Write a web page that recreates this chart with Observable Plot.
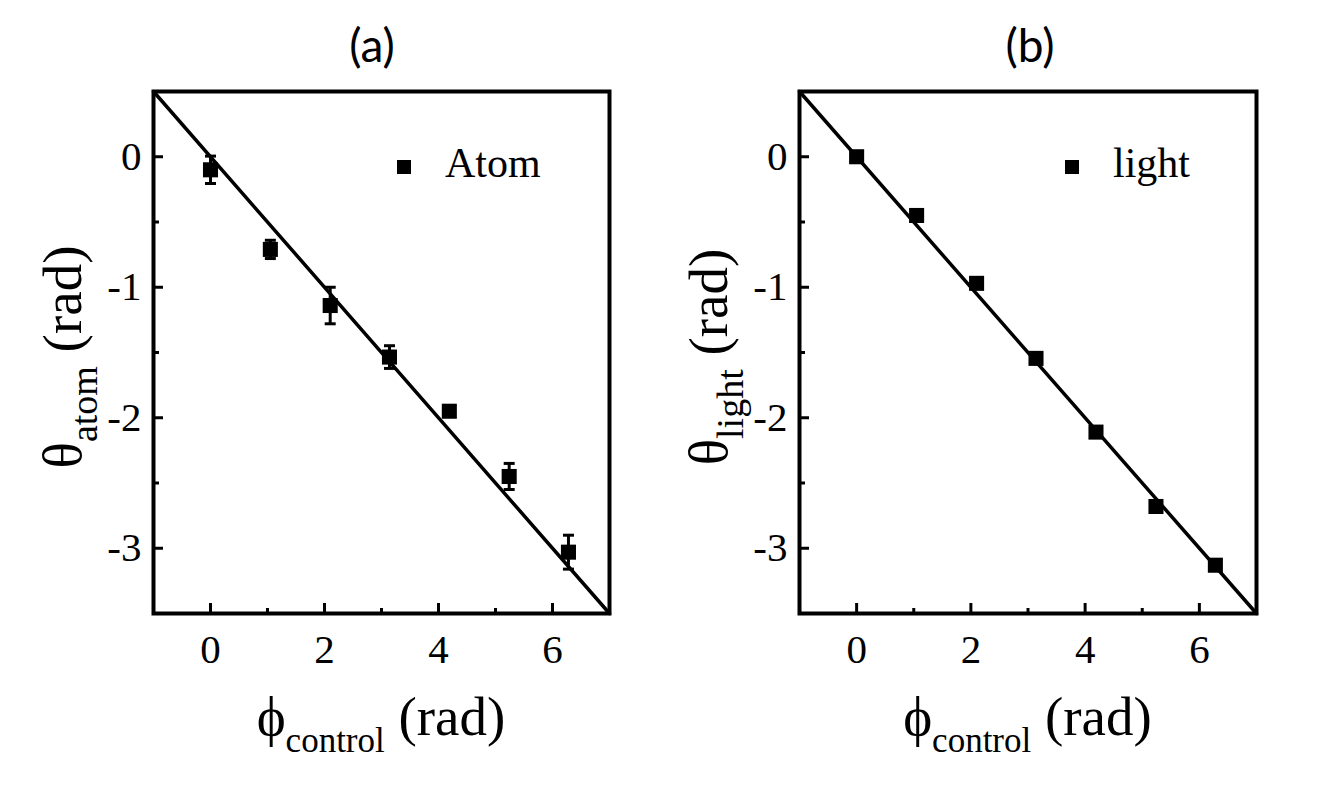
<!DOCTYPE html>
<html><head><meta charset="utf-8">
<script src="https://cdn.jsdelivr.net/npm/d3@7"></script>
<script src="https://cdn.jsdelivr.net/npm/@observablehq/plot@0.6"></script>
<style>
body{margin:0;background:#fff;}
#wrap{position:relative;width:1328px;height:800px;overflow:hidden;}
#wrap svg{position:absolute;top:0;}
</style></head><body><div id="wrap"></div>
<script>
// ---- data ----
const phiControl = [0, 1.05, 2.1, 3.14, 4.19, 5.24, 6.28];
const thetaAtom = [-0.1, -0.71, -1.14, -1.535, -1.95, -2.45, -3.03];
const thetaAtomErr = [0.105, 0.07, 0.14, 0.087, 0.04, 0.1, 0.13];
const thetaLight = [0, -0.45, -0.97, -1.545, -2.11, -2.68, -3.13];
const thetaLightErr = [0, 0, 0, 0, 0, 0, 0];
const fitX = [-1, 7];
const fitY = [0.5, -3.5];
const xDomain = [-1, 7];
const yDomain = [-3.5, 0.5];
const xMajorTicks = [0, 2, 4, 6];
const xMinorTicks = [1, 3, 5];
const yMajorTicks = [0, -1, -2, -3];
const yMinorTicks = [-0.5, -1.5, -2.5];
const panelTitles = ["(a)", "(b)"];
const yLabelSubs = ["atom", "light"];
const legendLabels = ["Atom", "light"];
const xLabelSub = "control";

const capSymbol = {
  draw(ctx, size) {
    const r = Math.sqrt(size / Math.PI);
    ctx.moveTo(-r, 0); ctx.lineTo(r, 0);
  }
};

const panels = [
  {left: 0, width: 664, ml: 153, mr: 55, ys: thetaAtom, es: thetaAtomErr, titleX: 372, legX: 404},
  {left: 664, width: 664, ml: 135, mr: 72, ys: thetaLight, es: thetaLightErr, titleX: 366, legX: 408}
];

const serif = "'Liberation Serif', 'Times New Roman', serif";
const wrap = document.getElementById("wrap");
panels.forEach((p, i) => {
  const pts = phiControl.map((x, j) => ({x, y: p.ys[j], e: p.es[j]}));
  const errPts = pts.filter(d => d.e > 0);
  const caps = errPts.flatMap(d => [{x: d.x, y: d.y + d.e}, {x: d.x, y: d.y - d.e}]);
  const fit = fitX.map((x, j) => ({x, y: fitY[j]}));
  const svg = Plot.plot({
    width: p.width, height: 800,
    marginLeft: p.ml, marginRight: p.mr, marginTop: 91, marginBottom: 187,
    x: {domain: xDomain},
    y: {domain: yDomain},
    style: {fontFamily: serif, fontSize: "41px", color: "black", background: "transparent", overflow: "visible"},
    marks: [
      Plot.axisX(xMajorTicks, {tickSize: -10, strokeWidth: 3, fill: "none", label: null}),
      Plot.axisX(xMinorTicks, {tickSize: -5, strokeWidth: 3, fill: "none", label: null}),
      Plot.axisX(xMajorTicks, {tickSize: 0, tickPadding: 20, tickFormat: d => String(d), fill: "black", label: null, fontSize: 41, fontVariant: "normal"}),
      Plot.axisY(yMajorTicks, {tickSize: -10, strokeWidth: 3, fill: "none", label: null}),
      Plot.axisY(yMinorTicks, {tickSize: -6, strokeWidth: 3, fill: "none", label: null}),
      Plot.axisY(yMajorTicks, {tickSize: 0, tickPadding: 12, tickFormat: d => String(d), fill: "black", label: null, fontSize: 41, fontVariant: "normal"}),
      Plot.line(fit, {x: "x", y: "y", stroke: "black", strokeWidth: 3.5}),
      Plot.ruleX(errPts, {x: "x", y1: d => d.y - d.e, y2: d => d.y + d.e, stroke: "black", strokeWidth: 3}),
      Plot.dot(caps, {x: "x", y: "y", symbol: capSymbol, r: 5.5, stroke: "black", strokeWidth: 3, fill: "none"}),
      Plot.dot(pts, {x: "x", y: "y", symbol: "square", r: 8.5, fill: "black", stroke: "none"}),
      Plot.frame({stroke: "black", strokeWidth: 4})
    ]
  });
  svg.style.left = p.left + "px";
  wrap.appendChild(svg);
  const s = d3.select(svg);
  // panel title
  s.append("text").attr("x", p.titleX).attr("y", 62).attr("text-anchor", "middle")
    .style("font-family", "Lato, 'Open Sans', sans-serif").style("font-size", "46px")
    .text(panelTitles[i]);
  // y title
  const yt = s.append("text").attr("transform", `translate(${p.ml - 72},357) rotate(-90)`)
    .attr("text-anchor", "middle").style("font-family", serif).style("font-size", "55px");
  yt.append("tspan").style("font-family", serif).text("θ");
  yt.append("tspan").attr("dy", 16).style("font-family", serif).style("font-size", "38px").text(yLabelSubs[i]);
  yt.append("tspan").attr("dy", -16).style("font-family", serif).text(" (rad)");
  // x title
  const cx = p.ml + (p.width - p.ml - p.mr) / 2;
  const xt = s.append("text").attr("x", cx).attr("y", 735).attr("text-anchor", "middle")
    .style("font-family", serif).style("font-size", "55px");
  xt.append("tspan").style("font-family", serif).text("ϕ");
  xt.append("tspan").attr("dy", 17).style("font-family", serif).style("font-size", "35px").text(xLabelSub);
  xt.append("tspan").attr("dy", -17).style("font-family", serif).text(" (rad)");
  // legend
  s.append("rect").attr("x", p.legX - 7).attr("y", 160).attr("width", 14).attr("height", 14).attr("fill", "black");
  s.append("text").attr("x", p.legX + 41).attr("y", 177).attr("text-anchor", "start")
    .style("font-family", serif).style("font-size", "42px").text(legendLabels[i]);
});
</script></body></html>
